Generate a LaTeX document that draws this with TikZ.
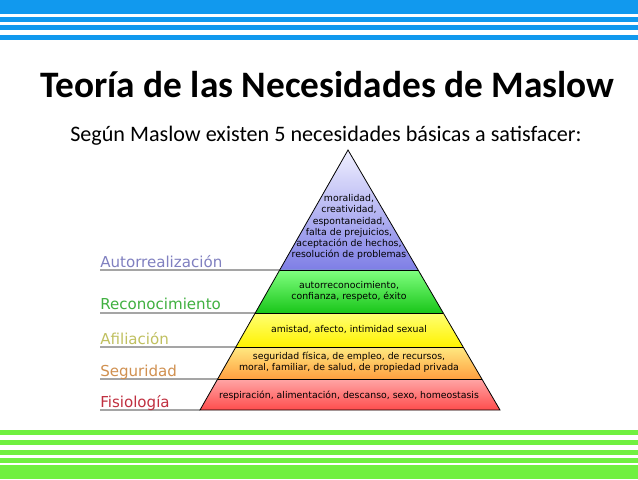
\documentclass[tikz,border=0pt]{standalone}
\usepackage{fontspec}
\setmainfont{Carlito}
\newfontfamily\dv{DejaVu Sans}
\usetikzlibrary{calc}
\definecolor{bandblue}{HTML}{1199EE}
\definecolor{bandgreen}{HTML}{70F040}
\tikzset{
  bb/.style={fill=bandblue,draw=none},
  bg/.style={fill=bandgreen,draw=none},
  lvl/.style={draw=black,line width=0.6pt},
  lvltext/.style={font=\dv\fontsize{7}{8.3}\selectfont,align=center,text=black},
  lab/.style={font=\dv\fontsize{11.3}{13}\selectfont,anchor=base west,inner sep=0pt},
  leader/.style={draw=black,line width=0.5pt}
}
\begin{document}
\begin{tikzpicture}[x=0.75pt,y=-0.75pt]
\useasboundingbox (0,0) rectangle (638,479);
\fill[white] (0,0) rectangle (638,479);
% top bands
\fill[bb] (0,0) rectangle (638,14);
\fill[bb] (0,17) rectangle (638,22);
\fill[bb] (0,25) rectangle (638,30);
\fill[bb] (0,35) rectangle (638,40);
% bottom bands
\fill[bg] (0,430) rectangle (638,435);
\fill[bg] (0,440) rectangle (638,445);
\fill[bg] (0,450) rectangle (638,455);
\fill[bg] (0,458) rectangle (638,463);
\fill[bg] (0,465) rectangle (638,479);
% title
\node[font=\bfseries\fontsize{28}{33}\selectfont,anchor=base west,inner sep=0pt] (title) at (40,97) {Teoría de las Necesidades de Maslow};
\node[font=\fontsize{16.6}{19}\selectfont,anchor=base west,inner sep=0pt] (sub) at (70,141) {Según Maslow existen 5 necesidades básicas a satisfacer:};
% pyramid
\coordinate (apex) at (348,150);
\coordinate (bl) at (200,410);
\coordinate (br) at (500,410);
\foreach \n/\t in {a/0.4615,b/0.6269,c/0.7577,d/0.8808}{
  \coordinate (l\n) at ($(apex)!\t!(bl)$);
  \coordinate (r\n) at ($(apex)!\t!(br)$);
}
\shade[top color=white!80!blue!30,bottom color=blue!45!white!90!black] (apex) -- (la) -- (ra) -- cycle;
\shade[top color=green!50!white,bottom color=green!75!black!90] (la) -- (lb) -- (rb) -- (ra) -- cycle;
\shade[top color=yellow!55!white,bottom color=yellow!90!orange] (lb) -- (lc) -- (rc) -- (rb) -- cycle;
\shade[top color=orange!35!yellow!50!white,bottom color=orange!75!white] (lc) -- (ld) -- (rd) -- (rc) -- cycle;
\shade[top color=red!35!white,bottom color=red!70!white] (ld) -- (bl) -- (br) -- (rd) -- cycle;
\draw[lvl] (apex) -- (bl) -- (br) -- cycle;
\draw[lvl] (la) -- (ra) (lb) -- (rb) (lc) -- (rc) (ld) -- (rd);
% leaders
\coordinate (ea) at (100,270);
\coordinate (eb) at (100,313);
\coordinate (ec) at (100,347);
\coordinate (ed) at (100,379);
\coordinate (ee) at (100,410);
\draw[leader] (ea) -- (la) (eb) -- (lb) (ec) -- (lc) (ed) -- (ld) (ee) -- (bl);
% labels
\node[lab,text={rgb,255:red,128;green,128;blue,192}] (n1) at (100,267) {Autorrealización};
\node[lab,text={rgb,255:red,64;green,176;blue,64}] (n2) at (100,309) {Reconocimiento};
\node[lab,text={rgb,255:red,192;green,192;blue,96}] (n3) at (100,344) {Afiliación};
\node[lab,text={rgb,255:red,208;green,144;blue,80}] (n4) at (100,376) {Seguridad};
\node[lab,text={rgb,255:red,192;green,48;blue,64}] (n5) at (100,407) {Fisiología};
% level texts
\node[lvltext] (t1) at (349,227) {moralidad,\\creatividad,\\espontaneidad,\\falta de prejuicios,\\aceptación de hechos,\\resolución de problemas};
\node[lvltext] (t2) at (349,291) {autorreconocimiento,\\confianza, respeto, éxito};
\node[lvltext] (t3) at (349,329) {amistad, afecto, intimidad sexual};
\node[lvltext] (t4) at (349,362) {seguridad física, de empleo, de recursos,\\moral, familiar, de salud, de propiedad privada};
\node[lvltext] (t5) at (349,396) {respiración, alimentación, descanso, sexo, homeostasis};
\end{tikzpicture}
\end{document}
